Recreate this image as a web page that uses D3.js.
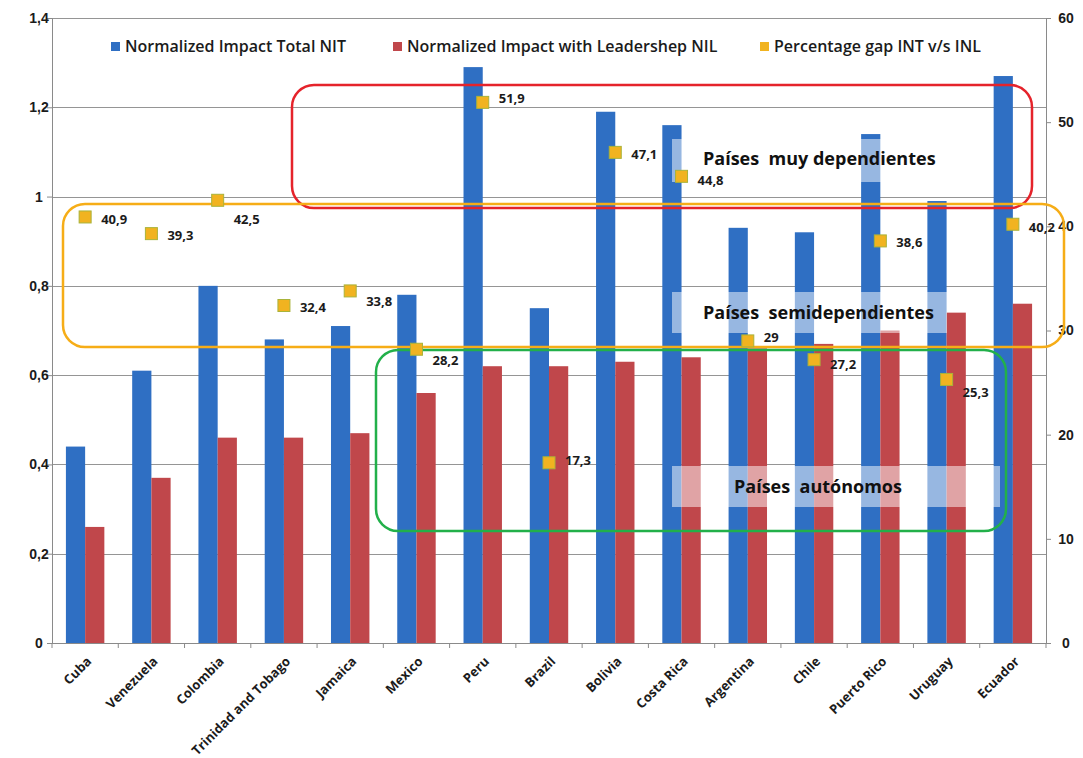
<!DOCTYPE html>
<html>
<head>
<meta charset="utf-8">
<script src="https://cdn.jsdelivr.net/npm/d3@7"></script>
<style>
  html, body { margin: 0; padding: 0; background: #ffffff; }
  svg { display: block; font-family: "Open Sans", "Liberation Sans", sans-serif; }
</style>
</head>
<body>
<svg id="chart" width="1083" height="758"></svg>
<script>
// ---- data ----
const categories = ["Cuba", "Venezuela", "Colombia", "Trinidad and Tobago", "Jamaica", "Mexico", "Peru", "Brazil", "Bolivia", "Costa Rica", "Argentina", "Chile", "Puerto Rico", "Uruguay", "Ecuador"];
const nitValues = [0.44, 0.61, 0.80, 0.68, 0.71, 0.78, 1.29, 0.75, 1.19, 1.16, 0.93, 0.92, 1.14, 0.99, 1.27];
const nilValues = [0.26, 0.37, 0.46, 0.46, 0.47, 0.56, 0.62, 0.62, 0.63, 0.64, 0.66, 0.67, 0.70, 0.74, 0.76];
const gapValues = [40.9, 39.3, 42.5, 32.4, 33.8, 28.2, 51.9, 17.3, 47.1, 44.8, 29, 27.2, 38.6, 25.3, 40.2];
const leftTicks = [0, 0.2, 0.4, 0.6, 0.8, 1, 1.2, 1.4];
const rightTicks = [0, 10, 20, 30, 40, 50, 60];
const seriesNames = ["Normalized Impact Total NIT", "Normalized Impact with Leadershep NIL", "Percentage gap INT v/s INL"];
const groupLabels = ["Países  muy dependientes", "Países  semidependientes", "Países  autónomos"];

// label vertical nudges (styling of the point labels)
const labelDy = [2, 2, 19, 2, 11, 11, -4, -2, 2, 4, -3, 5, 2, 13, 3];

// ---- styles ----
const colBlue = "#2f6fc3";
const colRed = "#c0474b";
const colGap = "#f1b320";
const colGapStroke = "#a9b33a";
const textCol = "#1b1b1b";

const svg = d3.select("#chart");
const plot = { left: 52, right: 1046, top: 18, bottom: 643 };

const x0 = d3.scaleBand().domain(categories).range([plot.left, plot.right]).paddingInner(0.42).paddingOuter(0.21);
const x1 = d3.scaleBand().domain(["nit", "nil"]).range([0, x0.bandwidth()]).padding(0);
const yL = d3.scaleLinear().domain([0, 1.4]).range([plot.bottom, plot.top]);
const yR = d3.scaleLinear().domain([0, 60]).range([plot.bottom, plot.top]);

// gridlines
svg.append("g").selectAll("line").data(leftTicks.filter(d => d > 0)).join("line")
  .attr("x1", plot.left).attr("x2", plot.right)
  .attr("y1", d => Math.round(yL(d)) + 0.5).attr("y2", d => Math.round(yL(d)) + 0.5)
  .attr("stroke", "#959595").attr("stroke-width", 1);

// bars
const groups = svg.append("g").selectAll("g").data(categories).join("g")
  .attr("transform", d => `translate(${x0(d)},0)`);
groups.append("rect")
  .attr("x", x1("nit")).attr("width", x1.bandwidth())
  .attr("y", (d, i) => yL(nitValues[i])).attr("height", (d, i) => yL(0) - yL(nitValues[i]))
  .attr("fill", colBlue);
groups.append("rect")
  .attr("x", x1("nil")).attr("width", x1.bandwidth())
  .attr("y", (d, i) => yL(nilValues[i])).attr("height", (d, i) => yL(0) - yL(nilValues[i]))
  .attr("fill", colRed);

// axes
const leftAxis = d3.axisLeft(yL).tickValues(leftTicks).tickSize(5)
  .tickFormat(d => d3.format("")(d).replace(".", ","));
const gL = svg.append("g").attr("transform", `translate(${plot.left},0)`).call(leftAxis);
gL.select(".domain").attr("stroke", "#8a8a8a");
gL.selectAll(".tick line").attr("stroke", "#8a8a8a");
gL.selectAll(".tick text").attr("font-size", 14).attr("font-weight", 700).attr("fill", textCol)
  .attr("text-anchor", "middle").attr("x", -13);

const rightAxis = d3.axisRight(yR).tickValues(rightTicks).tickSize(5);
const gR = svg.append("g").attr("transform", `translate(${plot.right},0)`).call(rightAxis);
gR.select(".domain").attr("stroke", "#8a8a8a");
gR.selectAll(".tick line").attr("stroke", "#8a8a8a");
gR.selectAll(".tick text").attr("font-size", 14).attr("font-weight", 700).attr("fill", textCol)
  .attr("text-anchor", "middle").attr("x", 20);

// bottom axis with ticks at category boundaries
const gB = svg.append("g").attr("transform", `translate(0,${plot.bottom})`);
gB.append("line").attr("x1", plot.left).attr("x2", plot.right).attr("y1", 0.5).attr("y2", 0.5).attr("stroke", "#8a8a8a");
gB.selectAll("line.tk").data(d3.range(categories.length + 1)).join("line").attr("class", "tk")
  .attr("x1", i => plot.left + i * x0.step()).attr("x2", i => plot.left + i * x0.step())
  .attr("y1", 0).attr("y2", 5).attr("stroke", "#8a8a8a");
gB.selectAll("text").data(categories).join("text")
  .attr("transform", d => `translate(${x0(d) + x0.bandwidth() / 2 + 4},${16}) rotate(-45)`)
  .attr("text-anchor", "end").attr("dy", "0.35em")
  .attr("font-size", 13).attr("font-weight", 700).attr("fill", textCol)
  .text(d => d);

// annotation boxes
const boxes = [
  { x: 292, y: 85, w: 740, h: 123, r: 22, c: "#e5232b" },
  { x: 63, y: 204, w: 1001, h: 143, r: 22, c: "#f6ad17" },
  { x: 376, y: 350, w: 630, h: 181, r: 22, c: "#22b04a" }
];
svg.append("g").selectAll("rect").data(boxes).join("rect")
  .attr("x", d => d.x).attr("y", d => d.y).attr("width", d => d.w).attr("height", d => d.h)
  .attr("rx", d => d.r).attr("ry", d => d.r)
  .attr("fill", "none").attr("stroke", d => d.c).attr("stroke-width", 2.5);

// group labels with semi-transparent backgrounds
const glPos = [
  { bx: 672, by: 139, bw: 274, bh: 43, tx: 703, ty: 159 },
  { bx: 672, by: 292, bw: 275, bh: 41, tx: 703, ty: 313 },
  { bx: 672, by: 466, bw: 328, bh: 41, tx: 734, ty: 487 }
];
const gl = svg.append("g").selectAll("g").data(groupLabels).join("g");
gl.append("rect")
  .attr("x", (d, i) => glPos[i].bx).attr("y", (d, i) => glPos[i].by)
  .attr("width", (d, i) => glPos[i].bw).attr("height", (d, i) => glPos[i].bh)
  .attr("fill", "#ffffff").attr("opacity", 0.5);
gl.append("text")
  .attr("x", (d, i) => glPos[i].tx).attr("y", (d, i) => glPos[i].ty).attr("dy", "0.35em")
  .attr("font-size", 18).attr("font-weight", 700).attr("fill", "#111")
  .attr("xml:space", "preserve").style("white-space", "pre")
  .text(d => d);

// gap markers
const mk = 12;
svg.append("g").selectAll("rect").data(categories).join("rect")
  .attr("x", d => x0(d) + x0.bandwidth() / 2 - mk / 2)
  .attr("y", (d, i) => yR(gapValues[i]) - mk / 2)
  .attr("width", mk).attr("height", mk)
  .attr("fill", colGap).attr("stroke", colGapStroke).attr("stroke-width", 1);
svg.append("g").selectAll("text").data(categories).join("text")
  .attr("x", d => x0(d) + x0.bandwidth() / 2 + 16)
  .attr("y", (d, i) => yR(gapValues[i]) + labelDy[i])
  .attr("dy", "0.35em")
  .attr("font-size", 13).attr("font-weight", 700).attr("fill", textCol)
  .text((d, i) => d3.format("")(gapValues[i]).replace(".", ","));

// legend
const legendX = [111, 393, 760];
const legendCols = [colBlue, colRed, colGap];
const lg = svg.append("g").selectAll("g").data(seriesNames).join("g")
  .attr("transform", (d, i) => `translate(${legendX[i]},46)`);
lg.append("rect").attr("x", 0).attr("y", -4).attr("width", 9).attr("height", 9)
  .attr("fill", (d, i) => legendCols[i]);
lg.append("text").attr("x", 14).attr("y", 0).attr("dy", "0.35em")
  .attr("font-size", 16).attr("font-weight", 600).attr("fill", textCol)
  .text(d => d);
</script>
</body>
</html>
